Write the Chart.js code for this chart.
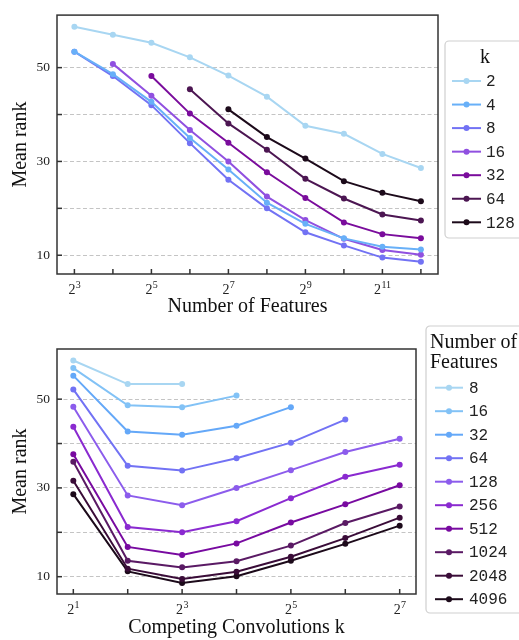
<!DOCTYPE html>
<html>
<head>
<meta charset="utf-8">
<script src="https://cdn.jsdelivr.net/npm/chart.js@4.4.0/dist/chart.umd.min.js"></script>
<style>
  body { margin: 0; background: #fff; }
  canvas { display: block; }
</style>
</head>
<body>
<canvas id="byFeatures" width="519" height="320"></canvas>
<canvas id="byK" width="519" height="320"></canvas>
<script>
// x values
const featureCounts = [8, 16, 32, 64, 128, 256, 512, 1024, 2048, 4096];
const kValues = [2, 4, 8, 16, 32, 64, 128];

// mean rank per k, one entry per feature count (null = not run)
const rankK2   = [58.7, 57.0, 55.3, 52.2, 48.3, 43.8, 37.6, 35.9, 31.6, 28.6];
const rankK4   = [53.4, 48.6, 42.7, 35.0, 28.3, 21.2, 16.7, 13.6, 11.8, 11.2];
const rankK8   = [53.4, 48.2, 42.0, 33.9, 26.1, 20.0, 14.9, 12.1, 9.5, 8.6];
const rankK16  = [null, 50.8, 44.0, 36.7, 30.0, 22.5, 17.5, 13.5, 11.1, 10.1];
const rankK32  = [null, null, 48.2, 40.2, 34.0, 27.7, 22.2, 17.0, 14.5, 13.6];
const rankK64  = [null, null, null, 45.4, 38.1, 32.5, 26.3, 22.1, 18.7, 17.4];
const rankK128 = [null, null, null, null, 41.1, 35.2, 30.6, 25.8, 23.3, 21.5];
const rankByK = [rankK2, rankK4, rankK8, rankK16, rankK32, rankK64, rankK128];

const yTicks = [10, 20, 30, 40, 50];
const yTickLabels = ['10', '', '30', '', '50'];

const kColors = ['#a8d6f2', '#68b0f8', '#7272f4', '#9050e0', '#7a0c9c', '#4c1652', '#1c0a1a'];
const featureColors = ['#a8d6f2', '#82c2f6', '#64a8f8', '#7272f4', '#8c5cec', '#8a2ad0',
                       '#780aa0', '#5a1a64', '#3a0c38', '#1c0a1a'];

const serif = "'Liberation Serif', 'Times New Roman', serif";
const mono = "'Liberation Mono', 'Courier New', monospace";

function lineSet(label, points, color) {
  return {
    label: label,
    data: points,
    borderColor: color,
    backgroundColor: color,
    borderWidth: 2,
    pointRadius: 3,
    pointHoverRadius: 3,
    pointBorderWidth: 0,
    tension: 0
  };
}

// inward ticks, 2^n labels, frame and the legend box
const decorPlugin = {
  id: 'decor',
  afterDraw(chart, args, opts) {
    const ctx = chart.ctx;
    const area = chart.chartArea;
    const xs = chart.scales.x;
    const ys = chart.scales.y;
    ctx.save();

    // frame
    ctx.strokeStyle = '#333';
    ctx.lineWidth = 1.5;
    ctx.strokeRect(area.left, area.top, area.right - area.left, area.bottom - area.top);

    // y ticks (inward)
    yTicks.forEach(v => {
      const py = ys.getPixelForValue(v);
      ctx.beginPath();
      ctx.moveTo(area.left, py);
      ctx.lineTo(area.left + 5, py);
      ctx.stroke();
    });

    // x ticks and labels
    ctx.fillStyle = '#222';
    ctx.textBaseline = 'alphabetic';
    ctx.textAlign = 'left';
    opts.xTicks.forEach(v => {
      const px = xs.getPixelForValue(v);
      ctx.beginPath();
      ctx.moveTo(px, area.bottom);
      ctx.lineTo(px, area.bottom - 5);
      ctx.stroke();
      const e = Math.round(Math.log2(v));
      if (e % 2 === 1) {
        ctx.font = '14px ' + serif;
        const wBase = ctx.measureText('2').width;
        ctx.font = '10px ' + serif;
        const wExp = ctx.measureText(String(e)).width;
        const x0 = px - (wBase + wExp) / 2;
        ctx.font = '14px ' + serif;
        ctx.fillText('2', x0, area.bottom + 20);
        ctx.font = '10px ' + serif;
        ctx.fillText(String(e), x0 + wBase + 0.3, area.bottom + 13.5);
      }
    });

    // legend
    const lg = opts.legend;
    ctx.beginPath();
    ctx.roundRect(lg.x, lg.y, lg.w, lg.h, 4);
    ctx.fillStyle = 'rgba(255,255,255,0.9)';
    ctx.fill();
    ctx.strokeStyle = '#cfcfcf';
    ctx.lineWidth = 1.2;
    ctx.stroke();

    ctx.fillStyle = '#111';
    ctx.font = '20px ' + serif;
    ctx.textBaseline = 'middle';
    ctx.textAlign = lg.titleAlign;
    lg.title.forEach((t, i) => ctx.fillText(t, lg.titleX, lg.titleY + i * 20));

    ctx.textAlign = 'left';
    ctx.font = '16px ' + mono;
    chart.data.datasets.forEach((ds, i) => {
      const y = lg.rowY + i * lg.rowGap;
      ctx.strokeStyle = ds.borderColor;
      ctx.lineWidth = 2;
      ctx.beginPath();
      ctx.moveTo(lg.lineX0, y);
      ctx.lineTo(lg.lineX1, y);
      ctx.stroke();
      ctx.fillStyle = ds.borderColor;
      ctx.beginPath();
      ctx.arc((lg.lineX0 + lg.lineX1) / 2, y, 3, 0, Math.PI * 2);
      ctx.fill();
      ctx.fillStyle = '#222';
      ctx.fillText(ds.label, lg.textX, y + 1);
    });
    ctx.restore();
  }
};

function makeChart(id, datasets, xTicks, xMin, xMax, yMin, yMax, xTitle, pad, legend) {
  return new Chart(document.getElementById(id), {
    type: 'line',
    data: { datasets: datasets },
    plugins: [decorPlugin],
    options: {
      responsive: false,
      animation: false,
      layout: { padding: pad },
      plugins: {
        legend: { display: false },
        tooltip: { enabled: false },
        decor: { xTicks: xTicks, legend: legend }
      },
      scales: {
        x: {
          type: 'logarithmic',
          min: xMin,
          max: xMax,
          afterBuildTicks: s => { s.ticks = xTicks.map(v => ({ value: v })); },
          afterFit: s => { s.height = 46; },
          ticks: { display: false },
          grid: { display: false },
          border: { display: false },
          title: {
            display: true,
            text: xTitle,
            color: '#111',
            font: { family: serif, size: 20 },
            padding: { top: 0, bottom: pad.titleBottom }
          }
        },
        y: {
          min: yMin,
          max: yMax,
          afterBuildTicks: s => { s.ticks = yTicks.map(v => ({ value: v })); },
          afterFit: s => { s.width = 57; },
          ticks: {
            color: '#222',
            padding: 7,
            font: { family: serif, size: 13.5 },
            callback: (v, i) => yTickLabels[i]
          },
          grid: { color: '#c4c4c4', lineWidth: 1, drawTicks: false },
          border: { display: false, dash: [4, 2.5] },
          title: {
            display: true,
            text: 'Mean rank',
            color: '#111',
            font: { family: serif, size: 20 },
            padding: { top: 8.5, bottom: 0 }
          }
        }
      }
    }
  });
}

// top chart: one line per k over the number of features
const topSets = kValues.map((k, j) => lineSet(String(k),
  featureCounts.map((f, i) => ({ x: f, y: rankByK[j][i] })).filter(p => p.y !== null),
  kColors[j]));

makeChart('byFeatures', topSets, featureCounts, Math.pow(2, 2.548), Math.pow(2, 12.444), 6, 61.2,
  'Number of Features', { top: 7, right: 81, left: 0, bottom: 0, titleBottom: 1.5 },
  { x: 445, y: 41, w: 85, h: 197, title: ['k'], titleAlign: 'center', titleX: 485, titleY: 58,
    rowY: 81, rowGap: 23.55, lineX0: 452, lineX1: 481, textX: 486 });

// bottom chart: one line per feature count over k
const bottomSets = featureCounts.map((f, i) => lineSet(String(f),
  kValues.map((k, j) => ({ x: k, y: rankByK[j][i] })).filter(p => p.y !== null),
  featureColors[i]));

makeChart('byK', bottomSets, kValues, Math.pow(2, 0.7), Math.pow(2, 7.3), 6.1, 61.3,
  'Competing Convolutions k', { top: 29, right: 103, left: 0, bottom: 0, titleBottom: 0 },
  { x: 426, y: 6, w: 100, h: 287, title: ['Number of', 'Features'], titleAlign: 'left', titleX: 430, titleY: 23,
    rowY: 67.7, rowGap: 23.5, lineX0: 435, lineX1: 463, textX: 469 });
</script>
</body>
</html>
